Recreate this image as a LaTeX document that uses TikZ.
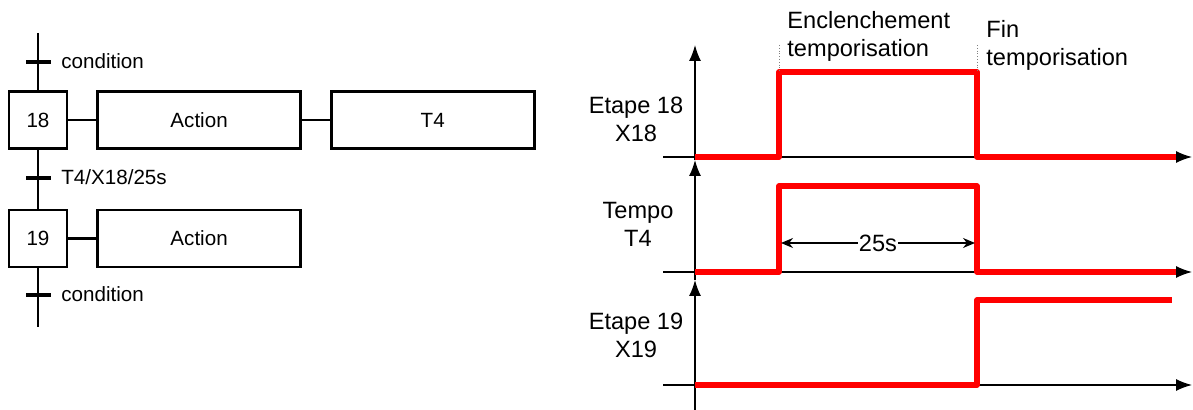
\documentclass[tikz,border=0pt]{standalone}
\usepackage{fontspec}
\setmainfont{Liberation Sans}
\usetikzlibrary{arrows.meta,positioning}

\begin{document}
\begin{tikzpicture}[x=0.5pt, y=-0.5pt, font=\fontsize{10.3}{12}\selectfont]
    \tikzstyle{stepbox} = [draw, line width=1.3pt, rectangle, minimum width=29pt, minimum height=28.5pt, inner sep=0pt]
    \tikzstyle{actbox} = [draw, line width=1.3pt, rectangle, minimum width=101.5pt, minimum height=28.5pt, inner sep=0pt]
    \tikzstyle{link} = [draw, line width=1.3pt]
    \tikzstyle{tick} = [draw, line width=1.8pt]
    \tikzstyle{axis} = [draw, line width=0.7pt, -{Latex[length=8pt,width=6pt]}]
    \tikzstyle{signal} = [draw, red, line width=2.6pt, line join=round]
    \tikzstyle{lbl} = [font=\fontsize{11.8}{14}\selectfont, align=center, inner sep=0pt]
    \tikzstyle{note} = [font=\fontsize{11.8}{14}\selectfont, align=left, inner sep=0pt, anchor=north west]

    \useasboundingbox (0,0) rectangle (1193,410);

    % Grafcet
    \node [stepbox] (s18) at (38,120) {18};
    \node [actbox, right=14pt of s18] (a18) {Action};
    \node [actbox, right=14pt of a18] (t4) {T4};
    \node [stepbox, below=29.5pt of s18] (s19) {19};
    \node [actbox, right=14pt of s19] (a19) {Action};

    \coordinate (top) at (38,33);
    \coordinate (bot) at (38,327);
    \coordinate (c1) at (38,62);
    \coordinate (c2) at (38,178);
    \coordinate (c3) at (38,295);

    \path [link] (top) -- (s18);
    \path [link] (s18) -- (s19);
    \path [link] (s19) -- (bot);
    \path [link] (s18) -- (a18);
    \path [link] (a18) -- (t4);
    \path [link] (s19) -- (a19);

    % Transitions
    \foreach \c/\txt in {c1/condition, c2/{T4/X18/25s}, c3/condition} {
        \draw [tick] ([xshift=-6pt]\c) -- ([xshift=6.5pt]\c);
        \node [anchor=base west, inner sep=0pt] (l\c) at ([xshift=11.5pt, yshift=-3.5pt]\c) {\txt};
    }

    % Chronogramme
    \coordinate (y0) at (695,410);
    \coordinate (y1) at (695,45);
    \coordinate (y2) at (695,160);
    \coordinate (y3) at (695,280);
    \path [axis] (y0) -- (y3);
    \path [axis] (y3) -- (y2);
    \path [axis] (y2) -- (y1);
    \path [axis] (663,157) -- (1192,157);
    \path [axis] (663,272) -- (1192,272);
    \path [axis] (663,385) -- (1192,385);

    \path [signal] (695,157) -- (779,157) -- (779,72) -- (977,72) -- (977,157) -- (1176,157);
    \path [signal] (695,272) -- (779,272) -- (779,186) -- (977,186) -- (977,272) -- (1176,272);
    \path [signal] (695,385) -- (977,385) -- (977,300) -- (1172,300);

    \draw [densely dotted, gray, thin] (779,45) -- (779,72);
    \draw [densely dotted, gray, thin] (977,45) -- (977,72);

    \draw [{Stealth[length=6pt,width=5pt]}-{Stealth[length=6pt,width=5pt]}, line width=0.6pt] (781,243) -- node [lbl, fill=white, inner sep=0.5pt] (d25) {25s} (975,243);

    \node [lbl, anchor=north] (e18) at (636,97) {Etape 18\\X18};
    \node [lbl, anchor=north] (tp) at (638,202) {Tempo\\T4};
    \node [lbl, anchor=north] (e19) at (636,313) {Etape 19\\X19};
    \node [note] (enc) at (787,11) {Enclenchement\\temporisation};
    \node [note] (fin) at (986,20) {Fin\\temporisation};
\end{tikzpicture}
\end{document}
